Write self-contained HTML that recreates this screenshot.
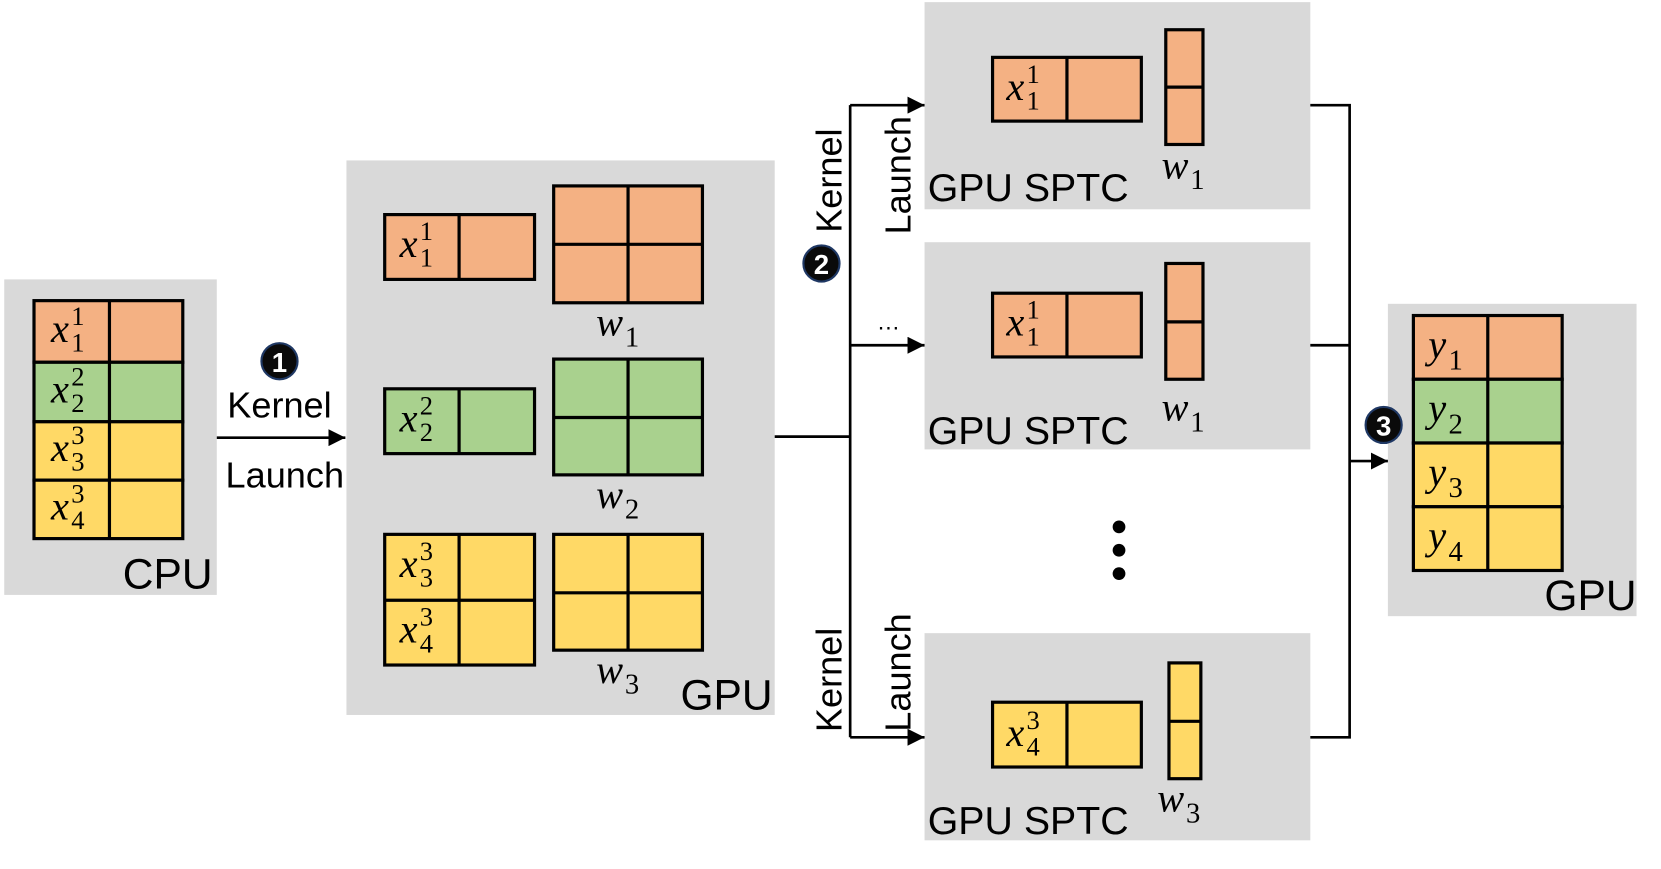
<!DOCTYPE html>
<html><head><meta charset="utf-8"><style>
html,body{margin:0;padding:0;background:#fff;width:1661px;height:869px;overflow:hidden}
svg{display:block}
.s{font-family:"Liberation Sans",sans-serif;fill:#000}
.m{font-family:"Liberation Serif",serif;font-style:italic;fill:#000}
.d{font-family:"Liberation Serif",serif;fill:#000}
</style></head><body>
<svg width="1661" height="869" viewBox="0 0 1563 818" preserveAspectRatio="none" xmlns="http://www.w3.org/2000/svg">
<defs>
<marker id="b" viewBox="0 0 10 10" markerWidth="16" markerHeight="16" refX="10" refY="5" orient="auto" markerUnits="userSpaceOnUse"><path d="M0,0 L10,5 L0,10 z"/></marker></defs>
<g fill="#D9D9D9">
<rect x="4" y="263" width="200" height="297"/>
<rect x="326" y="151" width="403" height="522"/>
<rect x="870" y="2" width="363" height="195"/>
<rect x="870" y="228" width="363" height="195"/>
<rect x="870" y="596" width="363" height="195"/>
<rect x="1306" y="286" width="234" height="294"/>
</g>
<g stroke="#000" stroke-width="3">
<rect x="32" y="283" width="140" height="58" fill="#F4B183"/>
<rect x="32" y="341" width="140" height="56" fill="#A9D18E"/>
<rect x="32" y="397" width="140" height="55" fill="#FFD966"/>
<rect x="32" y="452" width="140" height="55" fill="#FFD966"/>
<line x1="103" y1="283" x2="103" y2="507"/>
<rect x="362" y="202" width="141" height="61" fill="#F4B183"/><line x1="432" y1="202" x2="432" y2="263"/>
<rect x="521" y="175" width="140" height="110" fill="#F4B183"/><line x1="591" y1="175" x2="591" y2="285"/><line x1="521" y1="230" x2="661" y2="230"/>
<rect x="362" y="366" width="141" height="61" fill="#A9D18E"/><line x1="432" y1="366" x2="432" y2="427"/>
<rect x="521" y="338" width="140" height="109" fill="#A9D18E"/><line x1="591" y1="338" x2="591" y2="447"/><line x1="521" y1="393" x2="661" y2="393"/>
<rect x="362" y="503" width="141" height="123" fill="#FFD966"/><line x1="432" y1="503" x2="432" y2="626"/><line x1="362" y1="565" x2="503" y2="565"/>
<rect x="521" y="503" width="140" height="109" fill="#FFD966"/><line x1="591" y1="503" x2="591" y2="612"/><line x1="521" y1="558" x2="661" y2="558"/>
<rect x="934" y="54" width="140" height="60" fill="#F4B183"/><line x1="1004" y1="54" x2="1004" y2="114"/>
<rect x="1097" y="28" width="35" height="108" fill="#F4B183"/><line x1="1097" y1="82" x2="1132" y2="82"/>
<rect x="934" y="276" width="140" height="60" fill="#F4B183"/><line x1="1004" y1="276" x2="1004" y2="336"/>
<rect x="1097" y="248" width="35" height="109" fill="#F4B183"/><line x1="1097" y1="303" x2="1132" y2="303"/>
<rect x="934" y="661" width="140" height="61" fill="#FFD966"/><line x1="1004" y1="661" x2="1004" y2="722"/>
<rect x="1100" y="624" width="30" height="109" fill="#FFD966"/><line x1="1100" y1="679" x2="1130" y2="679"/>
<rect x="1330" y="297" width="140" height="60" fill="#F4B183"/>
<rect x="1330" y="357" width="140" height="60" fill="#A9D18E"/>
<rect x="1330" y="417" width="140" height="60" fill="#FFD966"/>
<rect x="1330" y="477" width="140" height="60" fill="#FFD966"/>
<line x1="1400" y1="297" x2="1400" y2="537"/>
</g>
<g stroke="#000" stroke-width="2.5" fill="none">
<line x1="204" y1="412" x2="325" y2="412" marker-end="url(#b)"/>
<line x1="729" y1="411" x2="800" y2="411"/>
<line x1="800" y1="99" x2="800" y2="694"/>
<line x1="800" y1="99" x2="870" y2="99" marker-end="url(#b)"/>
<line x1="800" y1="325" x2="870" y2="325" marker-end="url(#b)"/>
<line x1="800" y1="694" x2="870" y2="694" marker-end="url(#b)"/>
<polyline points="1233,99 1270,99 1270,694 1233,694"/>
<line x1="1233" y1="325" x2="1270" y2="325"/>
<line x1="1270" y1="434" x2="1306" y2="434" marker-end="url(#b)"/>
</g>
<g><circle cx="263" cy="340" r="17" fill="#0a0a0a" stroke="#1F3864" stroke-width="2"/><text x="263" y="350" text-anchor="middle" class="s" font-size="26" font-weight="bold" style="fill:#fff">1</text>
<circle cx="773" cy="248" r="17" fill="#0a0a0a" stroke="#1F3864" stroke-width="2"/><text x="773" y="258" text-anchor="middle" class="s" font-size="26" font-weight="bold" style="fill:#fff">2</text>
<circle cx="1302" cy="400" r="17" fill="#0a0a0a" stroke="#1F3864" stroke-width="2"/><text x="1302" y="410" text-anchor="middle" class="s" font-size="26" font-weight="bold" style="fill:#fff">3</text></g>
<circle cx="1053" cy="496" r="6"/><circle cx="1053" cy="518" r="6"/><circle cx="1053" cy="540" r="6"/>
<g class="s" font-size="34">
<text x="263" y="393" text-anchor="middle">Kernel</text>
<text x="268" y="459" text-anchor="middle">Launch</text>
<text x="200" y="554" text-anchor="end" font-size="40">CPU</text>
<text x="727" y="668" text-anchor="end" font-size="40">GPU</text>
<text x="1540" y="574" text-anchor="end" font-size="40">GPU</text>
<text x="873" y="189" font-size="37">GPU SPTC</text>
<text x="873" y="418" font-size="37">GPU SPTC</text>
<text x="873" y="785" font-size="37">GPU SPTC</text>
<text transform="translate(792,170) rotate(-90)" text-anchor="middle">Kernel</text>
<text transform="translate(857,165) rotate(-90)" text-anchor="middle">Launch</text>
<text transform="translate(792,640) rotate(-90)" text-anchor="middle">Kernel</text>
<text transform="translate(857,633) rotate(-90)" text-anchor="middle">Launch</text>
<text x="836" y="310" text-anchor="middle" font-size="22">…</text>
</g>
<g font-size="38">
<text class="m" x="48" y="322">x</text><text class="d" font-size="25" x="67" y="306">1</text><text class="d" font-size="25" x="67" y="331">1</text>
<text class="m" x="48" y="379">x</text><text class="d" font-size="25" x="67" y="363">2</text><text class="d" font-size="25" x="67" y="388">2</text>
<text class="m" x="48" y="434">x</text><text class="d" font-size="25" x="67" y="418">3</text><text class="d" font-size="25" x="67" y="443">3</text>
<text class="m" x="48" y="489">x</text><text class="d" font-size="25" x="67" y="473">3</text><text class="d" font-size="25" x="67" y="498">4</text>

<text class="m" x="376" y="242">x</text><text class="d" font-size="25" x="395" y="226">1</text><text class="d" font-size="25" x="395" y="251">1</text>
<text class="m" x="376" y="406">x</text><text class="d" font-size="25" x="395" y="390">2</text><text class="d" font-size="25" x="395" y="415">2</text>
<text class="m" x="376" y="543">x</text><text class="d" font-size="25" x="395" y="527">3</text><text class="d" font-size="25" x="395" y="552">3</text>
<text class="m" x="376" y="605">x</text><text class="d" font-size="25" x="395" y="589">3</text><text class="d" font-size="25" x="395" y="614">4</text>

<text class="m" x="561" y="316">w</text><text class="d" font-size="27" x="588" y="326">1</text>
<text class="m" x="561" y="478">w</text><text class="d" font-size="27" x="588" y="488">2</text>
<text class="m" x="561" y="643">w</text><text class="d" font-size="27" x="588" y="653">3</text>

<text class="m" x="947" y="94">x</text><text class="d" font-size="25" x="966" y="78">1</text><text class="d" font-size="25" x="966" y="103">1</text>
<text class="m" x="947" y="316">x</text><text class="d" font-size="25" x="966" y="300">1</text><text class="d" font-size="25" x="966" y="325">1</text>
<text class="m" x="947" y="702">x</text><text class="d" font-size="25" x="966" y="686">3</text><text class="d" font-size="25" x="966" y="711">4</text>

<text class="m" x="1093" y="168">w</text><text class="d" font-size="27" x="1120" y="178">1</text>
<text class="m" x="1093" y="396">w</text><text class="d" font-size="27" x="1120" y="406">1</text>
<text class="m" x="1089" y="764">w</text><text class="d" font-size="27" x="1116" y="774">3</text>

<text class="m" x="1344" y="337">y</text><text class="d" font-size="27" x="1363" y="348">1</text>
<text class="m" x="1344" y="397">y</text><text class="d" font-size="27" x="1363" y="408">2</text>
<text class="m" x="1344" y="457">y</text><text class="d" font-size="27" x="1363" y="468">3</text>
<text class="m" x="1344" y="517">y</text><text class="d" font-size="27" x="1363" y="528">4</text>
</g>
</svg>
</body></html>
